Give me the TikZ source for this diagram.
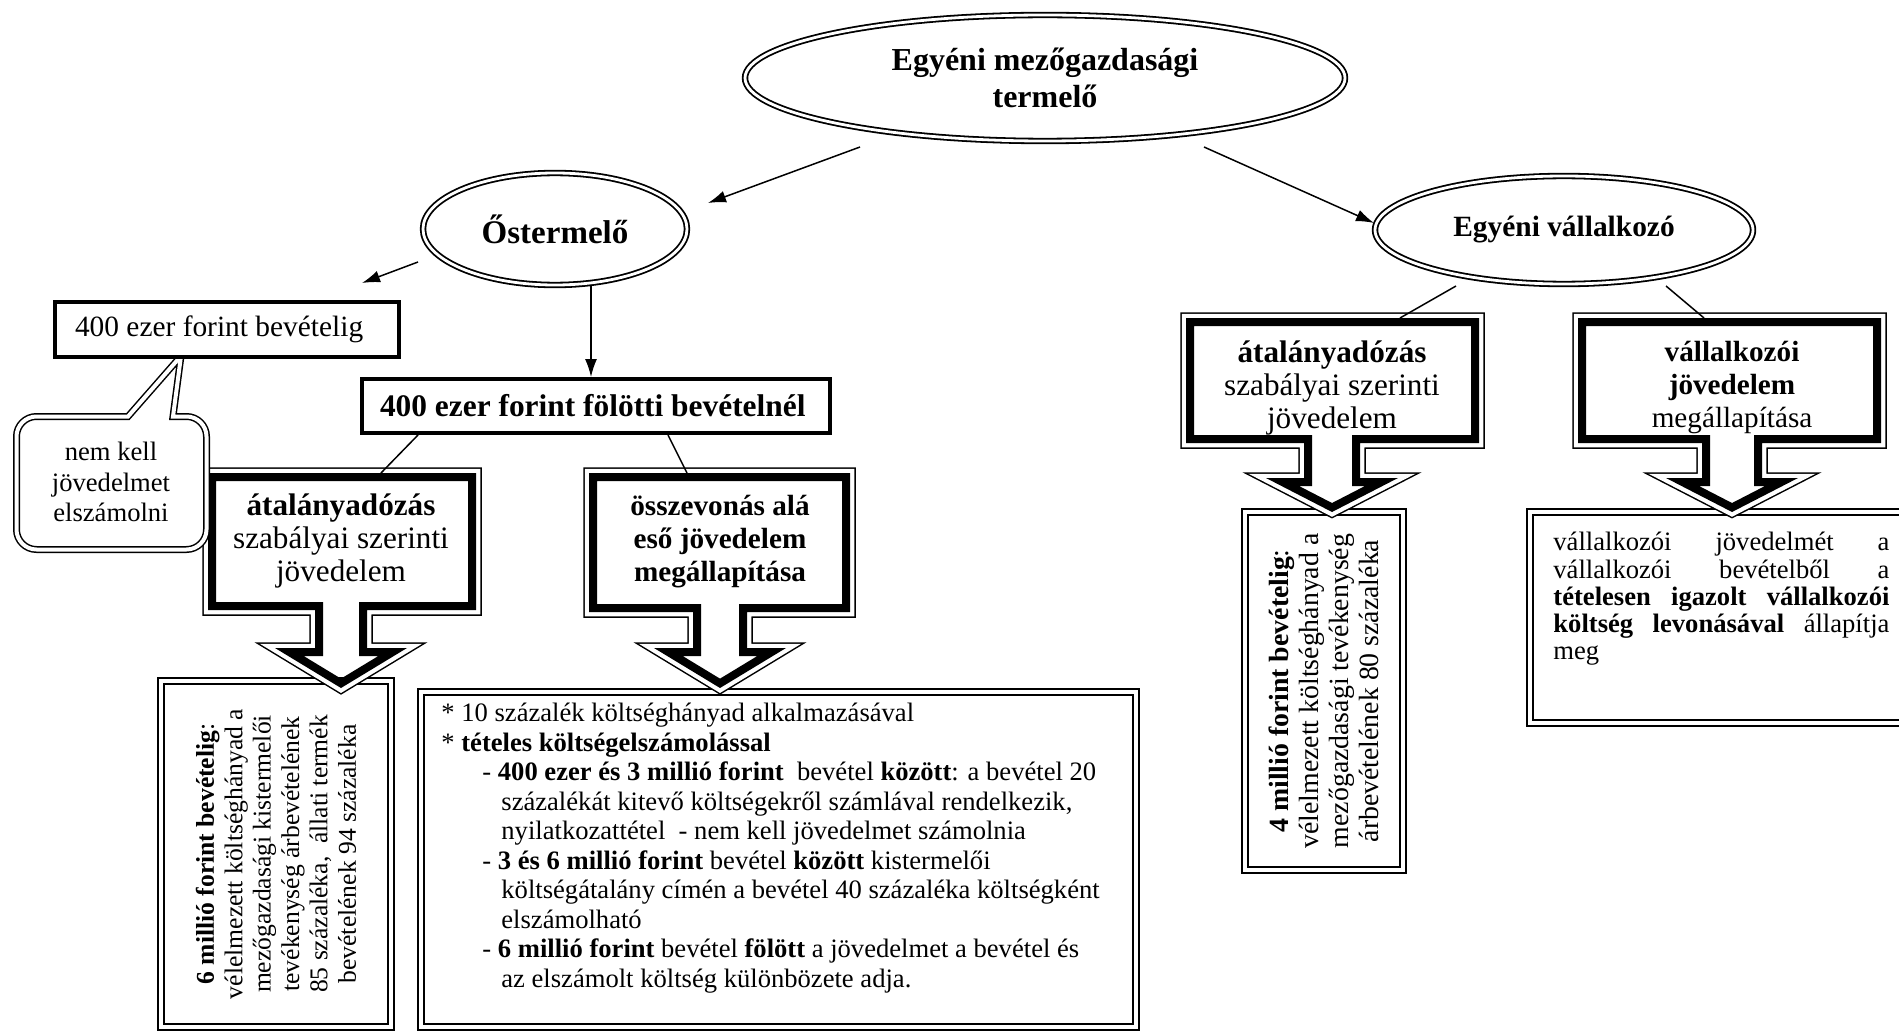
\documentclass[tikz,border=0pt]{standalone}
\usepackage{fontspec}
\setmainfont{Liberation Serif}
\usetikzlibrary{arrows.meta}
\usetikzlibrary{shapes.geometric}
\tikzset{>={Latex[length=9pt,width=6pt]}}
\def\linethickness{0.75pt}
\newcommand{\fsz}[2]{\fontsize{#1}{#2}\selectfont}
\tikzset{
    oval/.style={ellipse, draw, double, line width=0.9pt, double distance=1.4pt, inner sep=0pt, align=flush center},
    plainbox/.style={rectangle, draw, line width=1.75pt, inner sep=0pt, align=flush left, fill=white},
    dbox/.style={rectangle, draw, double, line width=0.9pt, double distance=2.2pt, inner sep=0pt},
    link/.style={line width=\linethickness}
}
% L T R B C s H h P
\newcommand{\blockpath}[9]{(#1,#2) -- (#3,#2) -- (#3,#4) -- ({#5+#6},#4) -- ({#5+#6},#7) -- ({#5+#8},#7) -- (#5,#9) -- ({#5-#8},#7) -- ({#5-#6},#7) -- ({#5-#6},#4) -- (#1,#4) -- cycle}
\newcommand{\bigframe}[9]{%
    \draw[line width=5.75pt] \blockpath{#1}{#2}{#3}{#4}{#5}{#6}{#7}{#8}{#9};
    \draw[line width=4.25pt, white] \blockpath{#1}{#2}{#3}{#4}{#5}{#6}{#7}{#8}{#9};
    \begin{scope}
        \clip \blockpath{#1}{#2}{#3}{#4}{#5}{#6}{#7}{#8}{#9};
        \draw[line width=8pt] \blockpath{#1}{#2}{#3}{#4}{#5}{#6}{#7}{#8}{#9};
    \end{scope}}

\begin{document}
\begin{tikzpicture}[x=0.5pt, y=-0.5pt]
    \fill[white] (0,0) rectangle (1899,1032);
    \useasboundingbox (0,0) rectangle (1899,1032);

    \node[dbox, rotate=90, minimum width=173pt, minimum height=115pt, align=flush center, font=\fsz{12.8}{14.2}] (six) at (276,854) {\textbf{6 millió forint bevételig}:\\vélelmezett költséghányad a\\mezőgazdasági kistermelői\\tevékenység árbevételének\\85 százaléka,\ \ állati termék\\bevételének 94 százaléka};
    \node[dbox, minimum width=357.5pt, minimum height=167.5pt] (sum) at (778.5,859.5) {};
    \node[anchor=north west, inner sep=0pt, text width=345pt, align=flush left, font=\fsz{13.3}{14.75}] (sumtxt) at (441,703) {* 10 százalék költséghányad alkalmazásával\\
        {*} \textbf{tételes költségelszámolással}\\
        \hspace*{20.5pt}- \textbf{400 ezer és 3 millió forint}\ \ bevétel \textbf{között}: a bevétel 20\\
        \hspace*{30pt}százalékát kitevő költségekről számlával rendelkezik,\\
        \hspace*{30pt}nyilatkozattétel\ \ - nem kell jövedelmet számolnia\\
        \hspace*{20.5pt}- \textbf{3 és 6 millió forint} bevétel \textbf{között} kistermelői\\
        \hspace*{30pt}költségátalány címén a bevétel 40 százaléka költségként\\
        \hspace*{30pt}elszámolható\\
        \hspace*{20.5pt}- \textbf{6 millió forint} bevétel \textbf{fölött} a jövedelmet a bevétel és\\
        \hspace*{30pt}az elszámolt költség különbözete adja.};
    \node[dbox, rotate=90, minimum width=179pt, minimum height=79pt, align=flush center, font=\fsz{13.9}{15}] (four) at (1324,691) {\textbf{4 millió forint bevételig}:\\vélelmezett költséghányad a\\mezőgazdasági tevékenység\\árbevételének 80 százaléka};
    \node[dbox, minimum width=192.5pt, minimum height=105.5pt] (vbox) at (1722.5,617.5) {};
    \node[anchor=north west, inner sep=0pt, text width=168pt, align=flush left, font=\fsz{13.3}{13.6}] (vtxt) at (1553,532) {\makebox[\hsize][s]{vállalkozói jövedelmét a}\\
        \makebox[\hsize][s]{vállalkozói bevételből a}\\
        \makebox[\hsize][s]{\textbf{tételesen igazolt vállalkozói}}\\
        \makebox[\hsize][s]{\textbf{költség levonásával} állapítja}\\
        meg};

    \bigframe{208}{473}{476}{610}{341}{26}{648}{66}{688}
    \bigframe{589}{473}{850}{612}{720}{27}{648}{66}{688}
    \bigframe{1186}{318}{1479}{443}{1332}{28}{478}{66}{512}
    \bigframe{1578}{318}{1881}{443}{1732}{30}{478}{66}{512}

    \node[align=flush center, font=\fsz{15.6}{16.3}] (atal1) at (341,541) {\textbf{átalányadózás}\\szabályai szerinti\\jövedelem};
    \node[align=flush center, font=\bfseries\fsz{14.6}{16.5}] (ossz) at (720,542) {összevonás alá\\eső jövedelem\\megállapítása};
    \node[align=flush center, font=\fsz{15.6}{16.3}] (atal2) at (1332,388) {\textbf{átalányadózás}\\szabályai szerinti\\jövedelem};
    \node[align=flush center, font=\fsz{14.6}{16.5}] (vall) at (1732,388) {\textbf{vállalkozói}\\\textbf{jövedelem}\\megállapítása};

    \draw[double, line width=0.75pt, double distance=2pt, fill=white] (36.5,416.5) -- (128,416.5) -- (181,356) -- (173,416.5) -- (186.5,416.5) arc[start angle=90, end angle=0, radius=10pt] -- (206.5,529.5) arc[start angle=0, end angle=-90, radius=10pt] -- (36.5,549.5) arc[start angle=270, end angle=180, radius=10pt] -- (16.5,436.5) arc[start angle=180, end angle=90, radius=10pt] -- cycle;
    \node[align=flush center, font=\fsz{13.3}{15.4}] (nk) at (111,482) {nem kell\\jövedelmet\\elszámolni};

    \node[plainbox, minimum width=172pt, minimum height=27.5pt, text width=152pt, font=\fsz{14.7}{17}] (lo) at (227,329.5) {400 ezer forint bevételig};
    \node[plainbox, minimum width=234pt, minimum height=27pt, text width=216pt, font=\bfseries\fsz{15.7}{18}] (hi) at (596,406) {400 ezer forint fölötti bevételnél};

    \node[oval, minimum width=300pt, minimum height=63pt, font=\bfseries\fsz{16}{18.5}] (top) at (1045,78) {Egyéni mezőgazdasági\\termelő};
    \node[oval, minimum width=132pt, minimum height=56pt, font=\bfseries\fsz{16.5}{19}] (oster) at (555,229) {Őstermelő};
    \node[oval, minimum width=189pt, minimum height=54pt, font=\bfseries\fsz{14.7}{17}] (vallE) at (1564,230) {Egyéni vállalkozó};

    \coordinate (topL) at (860,147);
    \coordinate (topR) at (1204,147);
    \coordinate (osterR) at (708,203);
    \coordinate (vallEL) at (1374,223);
    \coordinate (osterL) at (418,262);
    \coordinate (loT) at (362,283);
    \coordinate (osterB) at (591,286);
    \coordinate (hiT) at (591,377);
    \coordinate (hiL) at (418,435);
    \coordinate (hiR) at (668,435);
    \coordinate (atal1T) at (381,473);
    \coordinate (osszT) at (687,473);
    \coordinate (vallEB1) at (1456,286);
    \coordinate (vallEB2) at (1666,286);
    \coordinate (atal2T) at (1400,318);
    \coordinate (vallT) at (1704,318);

    \draw[->, link] (topL) -- (osterR);
    \draw[->, link] (topR) -- (vallEL);
    \draw[->, link] (osterL) -- (loT);
    \draw[->, link] (osterB) -- (hiT);
    \draw[link] (hiL) -- (atal1T);
    \draw[link] (hiR) -- (osszT);
    \draw[link] (vallEB1) -- (atal2T);
    \draw[link] (vallEB2) -- (vallT);
\end{tikzpicture}
\end{document}
